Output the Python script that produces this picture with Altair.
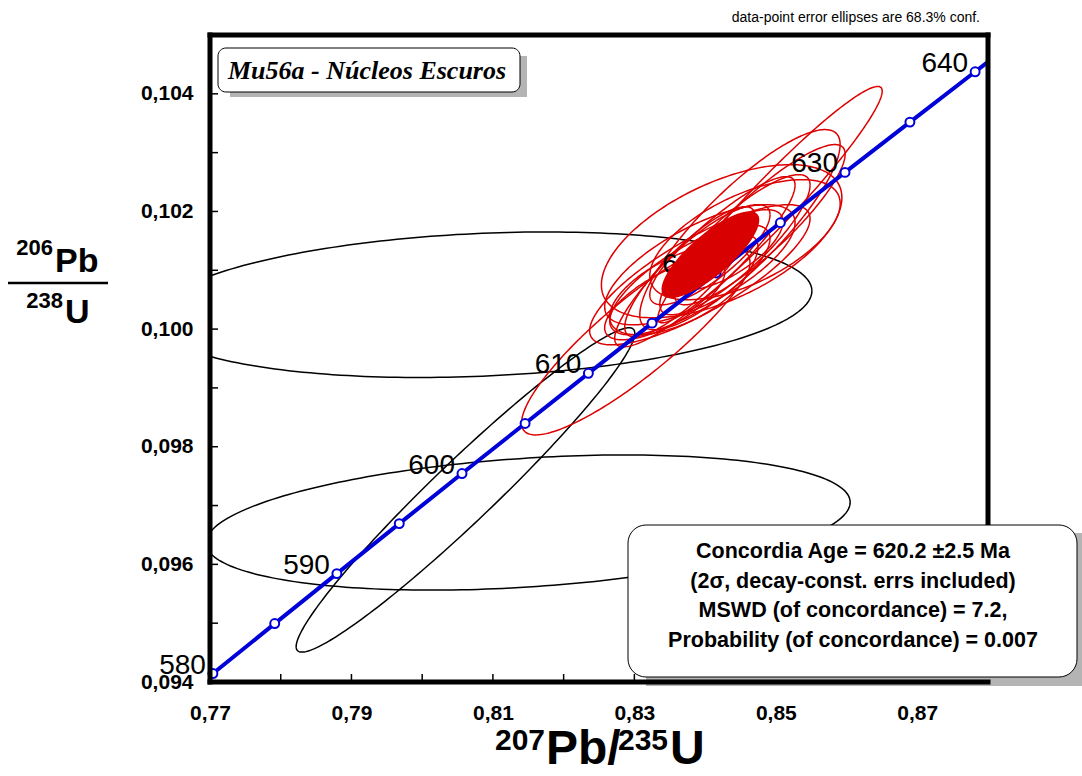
import numpy as np
import pandas as pd
import altair as alt

# ---------------- data ----------------
X_DOMAIN = [0.77, 0.88]
Y_DOMAIN = [0.094, 0.105]
W, H = 778, 647
FONT = "Liberation Sans"

# concordia tick points (every 5 Ma)
conc_age = [580, 585, 590, 595, 600, 605, 610, 615, 620, 625, 630, 635, 640]
conc_x = [0.77041, 0.77915, 0.78794, 0.79676, 0.80563, 0.81455, 0.82350,
          0.83250, 0.84155, 0.85064, 0.85978, 0.86896, 0.87818]
conc_y = [0.094144, 0.094993, 0.095843, 0.096693, 0.097544, 0.098395, 0.099248,
          0.100101, 0.100955, 0.101808, 0.102664, 0.103519, 0.104375]
# the curve runs on past 640 Ma to the frame
curve_end_x = [0.88189]
curve_end_y = [0.104717]
label_ages = [580, 590, 600, 610, 620, 630, 640]

# data-point error ellipses: centre, half-extent in x and y, correlation
ell_cx = [0.8085, 0.81497, 0.80612,
          0.83076, 0.84234, 0.84918, 0.84493, 0.83926, 0.83785,
          0.84068, 0.83643, 0.84422, 0.83430, 0.84776, 0.83926,
          0.83997, 0.84564, 0.83785, 0.84323]
ell_cy = [0.100414, 0.096711, 0.097265,
          0.099903, 0.101494, 0.102116, 0.101690, 0.101094, 0.100839,
          0.101265, 0.100669, 0.101435, 0.100499, 0.101775, 0.100924,
          0.101145, 0.101520, 0.100975, 0.101350]
ell_ax = [0.0466, 0.04554, 0.02394,
          0.01671, 0.0170, 0.01586, 0.01416, 0.01346, 0.01133,
          0.0085, 0.00992, 0.01062, 0.0085, 0.01204, 0.01558,
          0.01275, 0.01346, 0.00921, 0.00779]
ell_ay = [0.001237, 0.001149, 0.002757,
          0.001702, 0.001302, 0.002009, 0.001702, 0.001021, 0.000936,
          0.000851, 0.000766, 0.001191, 0.000681, 0.001362, 0.001191,
          0.001447, 0.001021, 0.001106, 0.000681]
ell_rho = [0.19, 0.30, 0.966,
           0.88, 0.57, 0.96, 0.85, 0.70, 0.75,
           0.80, 0.60, 0.85, 0.70, 0.88, 0.80,
           0.90, 0.60, 0.85, 0.70]
ell_color = ["#000000"] * 3 + ["#dd0000"] * 16

# concordia age ellipse (filled)
age_cx, age_cy, age_ax, age_ay, age_rho = 0.84075, 0.101265, 0.00691, 0.000737, 0.80

xtick_minor = [0.78, 0.79, 0.80, 0.81, 0.82, 0.83, 0.84, 0.85, 0.86, 0.87]
xtick_labels = [0.77, 0.79, 0.81, 0.83, 0.85, 0.87]
ytick_minor = [0.095, 0.096, 0.097, 0.098, 0.099, 0.100, 0.101, 0.102, 0.103, 0.104]
ytick_labels = [0.094, 0.096, 0.098, 0.100, 0.102, 0.104]

sample_title = "Mu56a - Núcleos Escuros"
result_lines = ["Concordia Age = 620.2 ±2.5 Ma",
                "(2σ, decay-const. errs included)",
                "MSWD (of concordance) = 7.2,",
                "Probability (of concordance) = 0.007"]
note_text = "data-point error ellipses are 68.3% conf."

BLUE = "#0000d8"
RED_FILL = "#d80000"
SHADOW = "#b4b4b4"

# ---------------- build tables ----------------
t = np.linspace(0, 2 * np.pi, 241)
rows = []
for i in range(len(ell_cx)):
    s = np.sqrt(1 - ell_rho[i] ** 2)
    xs = ell_cx[i] + ell_ax[i] * np.cos(t)
    ys = ell_cy[i] + ell_ay[i] * (ell_rho[i] * np.cos(t) + s * np.sin(t))
    for k in range(len(t)):
        rows.append({"id": i, "k": k, "x": xs[k], "y": ys[k], "col": ell_color[i]})
ell_df = pd.DataFrame(rows)

th = np.linspace(np.pi, 0, 161)
c = np.cos(th)
sq = np.sqrt(1 - c ** 2)
fs = np.sqrt(1 - age_rho ** 2)
age_df = pd.DataFrame({
    "x": age_cx + age_ax * c,
    "y1": age_cy + age_ay * (age_rho * c - fs * sq),
    "y2": age_cy + age_ay * (age_rho * c + fs * sq),
})

conc_df = pd.DataFrame({"age": conc_age, "x": conc_x, "y": conc_y})
curve_df = pd.DataFrame({"x": conc_x + curve_end_x, "y": conc_y + curve_end_y})
lab_df = conc_df[conc_df["age"].isin(label_ages)].copy()
lab_df["lab"] = lab_df["age"].astype(str)

one = pd.DataFrame({"a": [0]})

xaxis = alt.Axis(values=xtick_labels, labelExpr="replace(format(datum.value, '.2f'), '.', ',')",
                 ticks=False, domain=False, grid=False, labelFontSize=21, labelFontWeight="bold",
                 labelPadding=20, title=None, labelColor="black", labelFont=FONT,
                 labelFlush=False, labelOverlap=False)
yaxis = alt.Axis(values=ytick_labels, labelExpr="replace(format(datum.value, '.3f'), '.', ',')",
                 ticks=False, domain=False, grid=False, labelFontSize=21, labelFontWeight="bold",
                 labelPadding=17, title=None, labelColor="black", labelFont=FONT,
                 labelFlush=False, labelOverlap=False)
xs_ = alt.Scale(domain=X_DOMAIN, nice=False, zero=False)
ys_ = alt.Scale(domain=Y_DOMAIN, nice=False, zero=False)


def X(f):
    return alt.X(f + ":Q", scale=xs_, axis=xaxis)


def Y(f):
    return alt.Y(f + ":Q", scale=ys_, axis=yaxis)


def txt(text, x, y, size, align="left", weight="bold", **kw):
    return alt.Chart(one).mark_text(text=text, align=align, baseline="alphabetic", font=kw.pop("font", FONT),
                                    fontWeight=weight, fontSize=size, color="black", **kw).encode(
        x=alt.value(x), y=alt.value(y))


layers = []

# data-point ellipses
layers.append(alt.Chart(ell_df).mark_line(strokeWidth=1.5, clip=True).encode(
    x=X("x"), y=Y("y"), detail="id:N", order="k:Q", color=alt.Color("col:N", scale=None)))

# concordia curve
layers.append(alt.Chart(curve_df).mark_line(color=BLUE, strokeWidth=4, clip=True).encode(
    x=X("x"), y=Y("y"), order="x:Q"))
layers.append(alt.Chart(conc_df).mark_point(shape="circle", filled=True, fill="white", stroke=BLUE,
                                            strokeWidth=2, size=80, opacity=1).encode(
    x=X("x"), y=Y("y")))
layers.append(alt.Chart(lab_df).mark_text(align="right", baseline="alphabetic", dx=-7, fontSize=28,
                                          font=FONT, color="black").encode(
    x=X("x"), y=Y("y"), text="lab:N"))

# concordia age ellipse
layers.append(alt.Chart(age_df).mark_area(color=RED_FILL, opacity=1).encode(
    x=X("x"), y=Y("y1"), y2="y2:Q"))

# inward ticks
layers.append(alt.Chart(pd.DataFrame({"v": xtick_minor})).mark_rule(color="black", strokeWidth=1.5).encode(
    x=X("v"), y=alt.value(H), y2=alt.value(H - 8)))
layers.append(alt.Chart(pd.DataFrame({"v": ytick_minor})).mark_rule(color="black", strokeWidth=1.5).encode(
    y=Y("v"), x=alt.value(0), x2=alt.value(8)))

# frame (top, left, right)
layers.append(alt.Chart(one).mark_rule(color="black", strokeWidth=5, strokeCap="square").encode(
    x=alt.value(0), x2=alt.value(W), y=alt.value(0)))
layers.append(alt.Chart(one).mark_rule(color="black", strokeWidth=5, strokeCap="square").encode(
    x=alt.value(0), y=alt.value(0), y2=alt.value(H)))
layers.append(alt.Chart(one).mark_rule(color="black", strokeWidth=5, strokeCap="square").encode(
    x=alt.value(W), y=alt.value(0), y2=alt.value(H)))

# sample title box
layers.append(alt.Chart(one).mark_rect(color=SHADOW).encode(
    x=alt.value(20), x2=alt.value(317), y=alt.value(21), y2=alt.value(62)))
layers.append(alt.Chart(one).mark_rect(fill="white", stroke="black", strokeWidth=1, cornerRadius=8).encode(
    x=alt.value(8), x2=alt.value(310), y=alt.value(13), y2=alt.value(57)))
layers.append(txt(sample_title, 18, 44, 26, font="Liberation Serif", fontStyle="italic"))

# result box
layers.append(alt.Chart(one).mark_rect(color=SHADOW).encode(
    x=alt.value(436), x2=alt.value(872), y=alt.value(498), y2=alt.value(651)))
layers.append(alt.Chart(one).mark_rule(color="black", strokeWidth=5, strokeCap="square").encode(
    x=alt.value(0), x2=alt.value(W), y=alt.value(H)))
layers.append(alt.Chart(one).mark_rect(fill="white", stroke="black", strokeWidth=1, cornerRadius=18).encode(
    x=alt.value(418), x2=alt.value(867), y=alt.value(490), y2=alt.value(642)))
layers.append(alt.Chart(one).mark_text(text=result_lines, lineHeight=29.7, align="center", baseline="middle",
                                       font=FONT, fontWeight="bold", fontSize=21.5, color="black").encode(
    x=alt.value(643), y=alt.value(517)))

# note top-right
layers.append(txt(note_text, 770, -13, 14, align="right", weight="normal"))

# y axis title as a fraction
layers.append(txt("206", -157, 220, 22, align="right"))
layers.append(txt("Pb", -155, 237, 34))
layers.append(alt.Chart(one).mark_rule(color="black", strokeWidth=2.5).encode(
    x=alt.value(-202), x2=alt.value(-102), y=alt.value(248)))
layers.append(txt("238", -147, 273, 22, align="right"))
layers.append(txt("U", -145, 288, 34))

# x axis title
layers.append(txt("207", 285, 715, 30))
layers.append(txt("Pb/", 336, 729, 48))
layers.append(txt("235", 408, 715, 30))
layers.append(txt("U", 460, 729, 48))

chart = alt.layer(*layers).properties(
    width=W, height=H,
    padding={"left": 210, "top": 35, "right": 94, "bottom": 94},
    autosize=alt.AutoSizeParams(type="none"),
    background="white",
).configure_view(stroke=None)

chart.save("out.html", embed_options={"renderer": "svg", "actions": False})
